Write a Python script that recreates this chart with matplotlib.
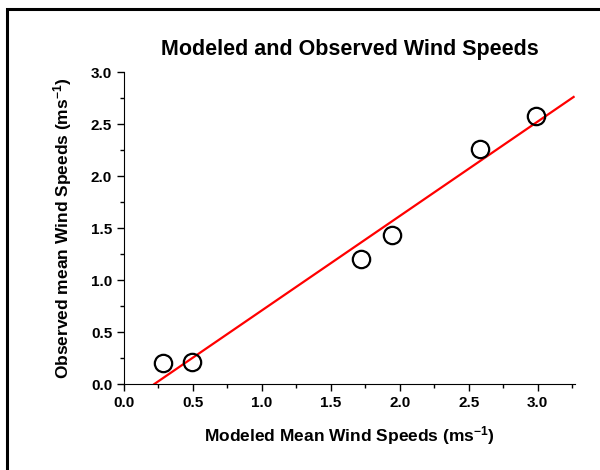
import matplotlib.pyplot as plt
import numpy as np
from matplotlib.patches import Rectangle

# valeurs
modeled = [0.28, 0.49, 1.72, 1.94, 2.58, 2.99]
observed = [0.20, 0.21, 1.20, 1.43, 2.26, 2.58]
fit_x = [0.22, 3.26]
slope = 0.908
intercept = -0.20

plt.rcParams['font.family'] = ['Liberation Sans', 'DejaVu Sans']
plt.rcParams['font.weight'] = 'bold'
plt.rcParams['mathtext.default'] = 'regular'

fig = plt.figure(figsize=(6, 4.7), dpi=100)
ax = fig.add_axes([124/600, 1-384/470, (575-124)/600, (384-72)/470])

# cadre extérieur
fig.patches.append(Rectangle((7/600, -0.1), 1.2, 1-9/470+0.1, transform=fig.transFigure,
                             fill=False, edgecolor='black', linewidth=2.2))

ax.plot(modeled, observed, 'o', markersize=12.5, markerfacecolor='none',
        markeredgecolor='black', markeredgewidth=1.6, zorder=3)
fx = np.array(fit_x)
ax.plot(fx, slope*fx + intercept, color='red', linewidth=1.6, zorder=2)

ax.set_xlim(0, 3.27)
ax.set_ylim(0, 3.0)
ax.set_xticks(np.arange(0, 3.01, 0.5))
ax.set_yticks(np.arange(0, 3.01, 0.5))
ax.set_xticks(np.arange(0.25, 3.27, 0.5), minor=True)
ax.set_yticks(np.arange(0.25, 3.0, 0.5), minor=True)
ax.xaxis.set_major_formatter(plt.FormatStrFormatter('%.1f'))
ax.yaxis.set_major_formatter(plt.FormatStrFormatter('%.1f'))
ax.tick_params(which='major', direction='out', length=5, width=1, labelsize=11)
ax.tick_params(which='minor', direction='out', length=3, width=1)
for s in ['top', 'right']:
    ax.spines[s].set_visible(False)

ax.set_title('Modeled and Observed Wind Speeds', fontsize=15.5, fontweight='bold', pad=12)
ax.set_xlabel('Modeled Mean Wind Speeds (ms$^{-1}$)', fontsize=12.5, fontweight='bold', labelpad=10)
ax.set_ylabel('Observed mean Wind Speeds (ms$^{-1}$)', fontsize=12.5, fontweight='bold', labelpad=12)

fig.savefig('out.png', dpi=100)
